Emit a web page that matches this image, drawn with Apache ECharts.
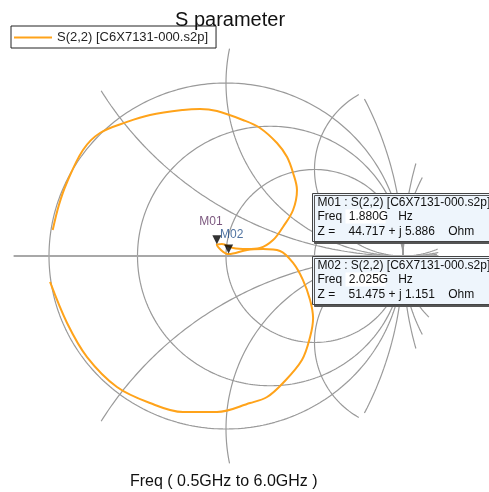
<!DOCTYPE html>
<html>
<head>
<meta charset="utf-8">
<script src="https://cdn.jsdelivr.net/npm/echarts@6/dist/echarts.min.js"></script>
<style>
  html, body { margin: 0; padding: 0; background: #fff; }
  #chart { width: 489px; height: 492px; }
</style>
</head>
<body>
<div id="chart"></div>
<script>
// S(2,2) trace, reflection coefficient (re / im)
const traceRe = [-0.979, -0.944, -0.900, -0.808, -0.712, -0.559, -0.429, -0.243, -0.147, -0.051,
  0.096, 0.192, 0.288, 0.345, 0.379, 0.401, 0.379, 0.322, 0.266, 0.192, 0.119, 0.040, -0.023,
  -0.052, 0.015, 0.119, 0.209, 0.305, 0.379, 0.435, 0.475, 0.492, 0.475, 0.429, 0.322, 0.232,
  0.136, -0.051, -0.243, -0.429, -0.616, -0.785, -0.898, -0.994];
const traceIm = [0.150, 0.295, 0.422, 0.613, 0.711, 0.775, 0.815, 0.844, 0.850, 0.838,
  0.786, 0.740, 0.653, 0.572, 0.480, 0.382, 0.266, 0.168, 0.092, 0.046, 0.040, 0.046, 0.069,
  0.066, 0.011, 0.035, 0.040, 0.029, -0.040, -0.139, -0.254, -0.358, -0.468, -0.601, -0.734, -0.815,
  -0.850, -0.902, -0.902, -0.850, -0.757, -0.584, -0.387, -0.150];

// markers
const markerNames = ['M01', 'M02'];
const markerFreq = ['1.880G', '2.025G'];
const markerR = [44.717, 51.475];
const markerX = [5.886, 1.151];
const z0 = 50;

// smith grid values
const rCircles = [0, 1 / 3, 1, 3];
const rOutside = [-0.5, -1.5, -2, -3];
const xArcs = [0.5, 1, 2];
const clipRadius = 1.2;

const gridColor = '#9a9a9a';

// points of a circle, cut where |G| > clipRadius
const circlePoints = (cx, cy, rad) => {
  const pts = [];
  for (let a = 0; a <= 360; a += 0.5) {
    const t = a * Math.PI / 180;
    const x = cx + rad * Math.cos(t);
    const y = cy + rad * Math.sin(t);
    if (Math.hypot(x, y) <= clipRadius + 1e-9) pts.push([x, y]);
    else pts.push('-');
  }
  return pts;
};

const gridSeries = [];
const addGrid = (pts) => {
  gridSeries.push({
    type: 'line', data: pts, symbol: 'none', silent: true, connectNulls: false,
    lineStyle: { color: gridColor, width: 1.2 }, z: 1
  });
};
rCircles.concat(rOutside).forEach(r => {
  addGrid(circlePoints(r / (r + 1), 0, 1 / Math.abs(r + 1)));
});
xArcs.forEach(x => {
  addGrid(circlePoints(1, 1 / x, 1 / x));
  addGrid(circlePoints(1, -1 / x, 1 / x));
});
// real axis
gridSeries.push({
  type: 'line', data: [[-clipRadius, 0], [clipRadius, 0]], symbol: 'none', silent: true,
  lineStyle: { color: '#a8a8a8', width: 2 }, z: 1
});

const toGamma = (r, x) => {
  const zr = r / z0, zi = x / z0;
  const nr = zr - 1, ni = zi, dr = zr + 1, di = zi;
  const d = dr * dr + di * di;
  return [(nr * dr + ni * di) / d, (ni * dr - nr * di) / d];
};

const trace = traceRe.map((v, i) => [v, traceIm[i]]);
const markerPts = markerNames.map((n, i) => toGamma(markerR[i], markerX[i]));
const labelColors = ['#5a2d5e', '#24508a'];

const myChart = echarts.init(document.getElementById('chart'));

const boxFont = '12px "Liberation Sans", Arial, sans-serif';
const makeBox = (i, top) => ({
  type: 'group',
  left: 312, top: top, z: 100,
  children: [
    { type: 'rect', z: 100, shape: { x: 0, y: 0, width: 190, height: 48 },
      style: { fill: '#eef5fc', stroke: '#444', lineWidth: 1, shadowColor: '#555', shadowOffsetX: 2, shadowOffsetY: 2 } },
    { type: 'rect', z: 101, shape: { x: 33, y: 16, width: 40, height: 14 }, style: { fill: '#fff' } },
    { type: 'text', z: 102, x: 5, y: 3, style: { text: markerNames[i] + ' : S(2,2) [C6X7131-000.s2p]', font: boxFont, fill: '#111' } },
    { type: 'text', z: 102, x: 5, y: 17, style: { text: 'Freq  ' + markerFreq[i] + '   Hz', font: boxFont, fill: '#111' } },
    { type: 'text', z: 102, x: 5, y: 32, style: { text: 'Z =    ' + markerR[i].toFixed(3) + ' + j ' + markerX[i].toFixed(3) + '    Ohm', font: boxFont, fill: '#111' } }
  ]
});

const option = {
  animation: false,
  title: {
    text: 'S parameter', left: 170, top: 5,
    textStyle: { fontSize: 20, fontWeight: 'normal', color: '#111', fontFamily: '"Liberation Sans", Arial, sans-serif' }
  },
  legend: {
    left: 11, top: 26, data: ['S(2,2) [C6X7131-000.s2p]'],
    borderColor: '#222', borderWidth: 1, borderRadius: 0, padding: [5, 8, 4, 3],
    icon: 'rect', itemWidth: 38, itemHeight: 2, itemGap: 5,
    textStyle: { fontSize: 13, color: '#222', fontFamily: '"Liberation Sans", Arial, sans-serif' }
  },
  grid: { left: 4.75, top: 31.1, width: 477.9, height: 449.8 },
  xAxis: { type: 'value', min: -1.25, max: 1.45, show: false },
  yAxis: { type: 'value', min: -1.3, max: 1.3, show: false },
  series: gridSeries.concat([
    {
      name: 'S(2,2) [C6X7131-000.s2p]', type: 'line', data: trace, symbol: 'none',
      smooth: 0.35, lineStyle: { color: '#ffa31a', width: 2 }, itemStyle: { color: '#ffa31a' }, z: 3
    },
    {
      type: 'scatter', z: 4,
      data: markerPts.map((p, i) => ({
        value: p,
        label: {
          show: true, formatter: markerNames[i], position: i === 0 ? [-13, -20] : [-4, -16],
          color: labelColors[i], fontSize: 12, fontFamily: '"Liberation Sans", Arial, sans-serif'
        }
      })),
      symbol: 'triangle', symbolRotate: 180, symbolSize: [9, 9], symbolOffset: [0, -5],
      itemStyle: { color: '#000' }
    }
  ]),
  graphic: [
    makeBox(0, 193),
    makeBox(1, 256),
    {
      type: 'text', left: 130, top: 474,
      style: { text: 'Freq ( 0.5GHz to 6.0GHz )', font: '16px "Liberation Sans", Arial, sans-serif', fill: '#111' }
    }
  ]
};
option && myChart.setOption(option);
</script>
</body>
</html>
